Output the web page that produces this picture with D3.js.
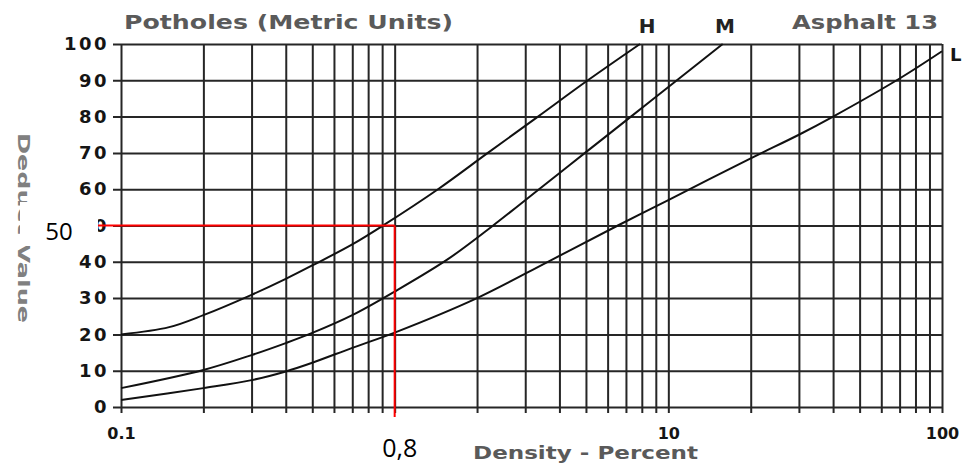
<!DOCTYPE html>
<html>
<head>
<meta charset="utf-8">
<script src="https://cdn.jsdelivr.net/npm/d3@7/dist/d3.min.js"></script>
<style>
  body { margin: 0; background: #fff; }
  svg { display: block; }
  .tick-label { font-family: "DejaVu Sans", sans-serif; font-weight: bold; fill: #151515; }
  .caption { font-family: "DejaVu Sans", sans-serif; font-weight: bold; fill: #5a5a5a; }
  .note { font-family: "Open Sans", "Noto Sans", sans-serif; fill: #000; }
</style>
</head>
<body>
<div id="main"></div>
<script>
// curves: density (%) and deduct value
const hDensity = [0.1, 0.15, 0.2, 0.3, 0.4, 0.5, 0.7, 0.92, 1.44, 2.19, 3.34, 5.08, 7.88]
const hValue   = [20, 22, 25.3, 30.9, 35.3, 39, 44.8, 50.3, 60, 70, 80, 90, 100]

const mDensity = [0.1, 0.2, 0.3, 0.4, 0.5, 0.7, 1, 1.57, 2.29, 3.37, 4.96, 7.3, 10.75, 15.8]
const mValue   = [5.2, 10.2, 14.3, 17.6, 20.4, 25.3, 31.8, 40.8, 50, 60, 70, 80, 90, 100]

const lDensity = [0.1, 0.2, 0.3, 0.4, 0.5, 0.7, 1, 2, 3.63, 6.54, 10, 20, 30, 40, 70, 100]
const lValue   = [1.9, 5.2, 7.4, 9.8, 12.2, 16.3, 20.5, 30, 40, 50, 57, 68.5, 75, 80, 90.5, 98]

const yTicks = [0, 10, 20, 30, 40, 50, 60, 70, 80, 90, 100]
const xLabels = [0.1, 10, 100]

// red reading marker
const markDensity = 1.0
const markValue = 50
const markLabels = ["50", "0,8"]

let width = 962,
    height = 463

const svg = d3.select("div#main")
    .append("svg")
    .attr("width", width)
    .attr("height", height)

const x = d3.scaleLog().domain([0.1, 100]).range([121, 942])
const y = d3.scaleLinear().domain([0, 100]).range([407, 44])

// vertical grid (log ticks), runs a bit below the axis
const xAxis = d3.axisBottom(x)
    .tickValues(x.ticks())
    .tickSize(-(413 - 44))
    .tickPadding(15)
    .tickFormat(d => xLabels.includes(+d.toPrecision(3)) ? d3.format("~g")(d) : "")

const gx = svg.append("g")
    .attr("transform", "translate(0,413)")
    .call(xAxis)
gx.select(".domain").remove()
gx.selectAll(".tick line").attr("stroke", "#262626").attr("stroke-width", 2)
gx.selectAll(".tick text").attr("class", "tick-label").style("font-size", "16px")

// horizontal grid
const yAxis = d3.axisLeft(y)
    .tickValues(yTicks)
    .tickSize(-(942 - 113))
    .tickPadding(4)

const gy = svg.append("g")
    .attr("transform", "translate(113,0)")
    .call(yAxis)
gy.select(".domain").remove()
gy.selectAll(".tick line").attr("stroke", "#262626").attr("stroke-width", 2)
gy.selectAll(".tick text").attr("class", "tick-label")
    .style("font-size", "18px")
    .attr("letter-spacing", "2.5px")

// curves
const line = d3.line()
    .x(d => x(d[0]))
    .y(d => y(d[1]))
    .curve(d3.curveCatmullRom.alpha(0.5))

const curves = [
    { name: "H", pts: d3.zip(hDensity, hValue) },
    { name: "M", pts: d3.zip(mDensity, mValue) },
    { name: "L", pts: d3.zip(lDensity, lValue) }
]

svg.selectAll(".curve")
    .data(curves)
    .join("path")
    .attr("class", "curve")
    .attr("d", d => line(d.pts))
    .attr("fill", "none")
    .attr("stroke", "#111")
    .attr("stroke-width", 2)

// curve names at the ends
svg.append("text").attr("class", "tick-label").attr("x", 647).attr("y", 33)
    .attr("text-anchor", "middle").style("font-size", "20px").style("fill", "#222").text("H")
svg.append("text").attr("class", "tick-label").attr("x", 725).attr("y", 33)
    .attr("text-anchor", "middle").style("font-size", "20px").style("fill", "#222").text("M")
svg.append("text").attr("class", "tick-label").attr("x", 950).attr("y", 61)
    .style("font-size", "18px").text("L")

// titles
svg.append("text").attr("class", "caption")
    .attr("x", 124).attr("y", 29)
    .attr("textLength", 329).attr("lengthAdjust", "spacingAndGlyphs")
    .style("font-size", "19px")
    .text("Potholes (Metric Units)")

svg.append("text").attr("class", "caption")
    .attr("x", 792).attr("y", 29)
    .attr("textLength", 146).attr("lengthAdjust", "spacingAndGlyphs")
    .style("font-size", "19px")
    .text("Asphalt 13")

svg.append("text").attr("class", "caption")
    .attr("x", 473).attr("y", 459)
    .attr("textLength", 225).attr("lengthAdjust", "spacingAndGlyphs")
    .style("font-size", "17px")
    .text("Density - Percent")

svg.append("text").attr("class", "caption")
    .attr("transform", "translate(18,133) rotate(90)")
    .attr("textLength", 190).attr("lengthAdjust", "spacingAndGlyphs")
    .style("font-size", "15px")
    .style("fill", "#808080")
    .text("Deduct Value")

// red reading lines
svg.append("line")
    .attr("x1", 20).attr("x2", x(markDensity))
    .attr("y1", y(markValue)).attr("y2", y(markValue))
    .attr("stroke", "#ff0000").attr("stroke-width", 2)
svg.append("line")
    .attr("x1", x(markDensity)).attr("x2", x(markDensity))
    .attr("y1", y(markValue)).attr("y2", 417)
    .attr("stroke", "#ff0000").attr("stroke-width", 2)

// white label boxes
svg.append("rect").attr("x", 20).attr("y", 202).attr("width", 78).attr("height", 44).attr("fill", "#fff")
svg.append("rect").attr("x", 368).attr("y", 418).attr("width", 72).attr("height", 45).attr("fill", "#fff")

svg.append("text").attr("class", "note")
    .attr("x", 59).attr("y", 240).attr("text-anchor", "middle")
    .style("font-size", "24px").text(markLabels[0])
svg.append("text").attr("class", "note")
    .attr("x", x(markDensity) + 5).attr("y", 457).attr("text-anchor", "middle")
    .style("font-size", "25px").text(markLabels[1])
</script>
</body>
</html>
